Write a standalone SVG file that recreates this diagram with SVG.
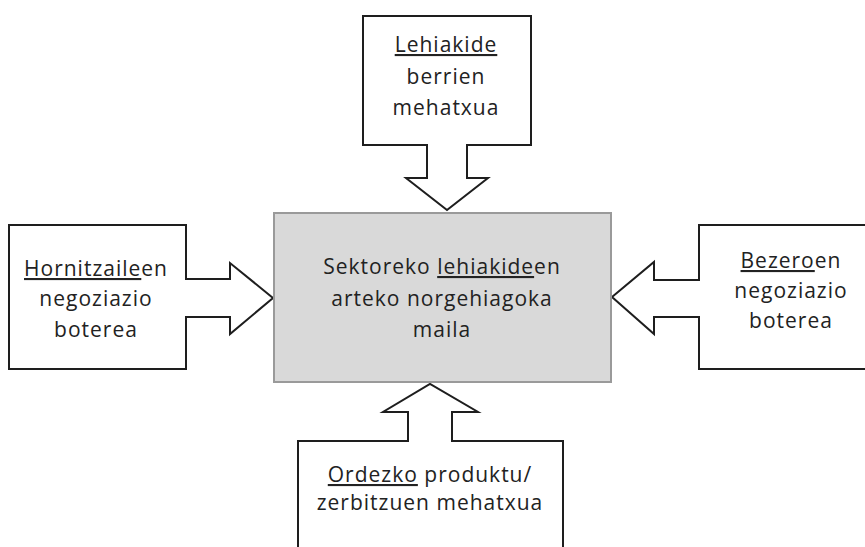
<svg xmlns="http://www.w3.org/2000/svg" width="865" height="547" viewBox="0 0 865 547">
  <style>
    .force { fill: #ffffff; stroke: #1e1e1e; stroke-width: 2; stroke-linejoin: miter; }
    .core { fill: #d9d9d9; stroke: #9a9a9a; stroke-width: 2; }
    .lbl { font-family: "Open Sans", "Noto Sans", "Liberation Sans", sans-serif; font-size: 21px; letter-spacing: 1px; fill: #222222; text-anchor: middle; }
    .u { text-decoration: underline; }
  </style>
  <rect width="865" height="547" fill="#ffffff"/>

  <!-- block arrows: each force box merges into its arrow -->
  <g id="connectors"/>

  <g id="new-entrants">
    <polygon class="force" points="363,16 531,16 531,145 467,145 467,178 488,178 447,210 406,178 427,178 427,145 363,145"/>
    <text class="lbl" x="446" y="52"><tspan class="u">Lehiakide</tspan></text>
    <text class="lbl" x="446" y="84">berrien</text>
    <text class="lbl" x="446" y="115">mehatxua</text>
  </g>

  <g id="suppliers">
    <polygon class="force" points="9,225 186,225 186,279 230,279 230,263 273,298 230,334 230,317 186,317 186,369 9,369"/>
    <text class="lbl" x="96" y="276"><tspan class="u">Hornitzaile</tspan>en</text>
    <text class="lbl" x="96" y="306">negoziazio</text>
    <text class="lbl" x="96" y="337">boterea</text>
  </g>

  <g id="buyers">
    <polygon class="force" points="885,225 699,225 699,280 654,280 654,262 612,297 654,334 654,317 699,317 699,369 885,369"/>
    <text class="lbl" x="791" y="268"><tspan class="u">Bezero</tspan>en</text>
    <text class="lbl" x="791" y="298">negoziazio</text>
    <text class="lbl" x="791" y="328">boterea</text>
  </g>

  <g id="substitutes">
    <polygon class="force" points="298,560 298,441 408,441 408,412 383,412 430,384 478,412 452,412 452,441 563,441 563,560"/>
    <text class="lbl" x="430" y="482"><tspan class="u">Ordezko</tspan> produktu/</text>
    <text class="lbl" x="430" y="510">zerbitzuen mehatxua</text>
  </g>

  <g id="rivalry">
    <rect class="core" x="274" y="213" width="337" height="169"/>
    <text class="lbl" x="442" y="274">Sektoreko <tspan class="u">lehiakide</tspan>en</text>
    <text class="lbl" x="442" y="306">arteko norgehiagoka</text>
    <text class="lbl" x="442" y="337">maila</text>
  </g>
</svg>
